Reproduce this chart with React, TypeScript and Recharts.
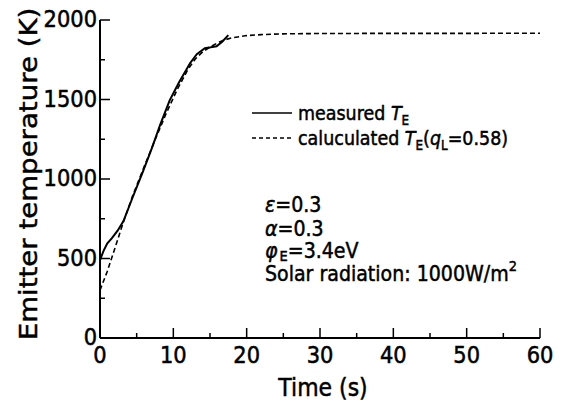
import React from 'react';
import { LineChart, Line, XAxis, YAxis } from 'recharts';

// measured emitter temperature (solid)
const timeMeasured = [0, 0.5, 1, 1.6, 2.4, 3.2, 4.5, 5.8, 7.0, 8.2, 9.5, 10.8, 12.3, 13.2, 14.3, 15.1, 15.9, 16.7, 17.5];
const tempMeasured = [490, 550, 595, 627, 675, 735, 890, 1040, 1185, 1340, 1495, 1610, 1730, 1785, 1822, 1828, 1835, 1865, 1905];

// calculated emitter temperature, qL = 0.58 (dashed)
const timeCalc = [0, 1, 2, 3.2, 4.5, 6, 7.5, 9, 10.5, 12, 13, 14, 15, 16, 17, 18, 20, 22, 25, 30, 40, 50, 60];
const tempCalc = [300, 420, 560, 731, 900, 1075, 1245, 1410, 1560, 1690, 1755, 1800, 1830, 1855, 1875, 1888, 1902, 1908, 1913, 1915, 1916, 1916, 1917];

const xTicks = [0, 5, 10, 15, 20, 25, 30, 35, 40, 45, 50, 55, 60];
const yTicks = [0, 250, 500, 750, 1000, 1250, 1500, 1750, 2000];

const measured = timeMeasured.map((t, i) => ({ t, T: tempMeasured[i] }));
const calculated = timeCalc.map((t, i) => ({ t, T: tempCalc[i] }));

const FONT = 'DejaVu Sans';

const BottomTick = (props: any) => {
  const { x, y, payload } = props;
  const v = payload.value;
  const major = v % 10 === 0;
  return (
    <g>
      <line x1={x} x2={x} y1={y} y2={y - (major ? 10 : 5)} stroke="#000" strokeWidth={1.5} />
      {major && (
        <text transform={`translate(${x},${y + 25}) scale(1,1.1)`} textAnchor="middle" fontSize={21} fontFamily={FONT} fill="#000" stroke="#000" strokeWidth={0.5}>
          {v}
        </text>
      )}
    </g>
  );
};

const TopTick = (props: any) => {
  const { x, y, payload } = props;
  const major = payload.value % 10 === 0;
  return <line x1={x} x2={x} y1={y} y2={y + (major ? 10 : 5)} stroke="#000" strokeWidth={1.5} />;
};

const LeftTick = (props: any) => {
  const { x, y, payload } = props;
  const v = payload.value;
  const major = v % 500 === 0;
  return (
    <g>
      <line x1={x} x2={x + (major ? 10 : 5)} y1={y} y2={y} stroke="#000" strokeWidth={1.5} />
      {major && (
        <text transform={`translate(${x - 3},${y + 7}) scale(1,1.1)`} textAnchor="end" fontSize={21} fontFamily={FONT} fill="#000" stroke="#000" strokeWidth={0.5}>
          {v}
        </text>
      )}
    </g>
  );
};

const RightTick = (props: any) => {
  const { x, y, payload } = props;
  const major = payload.value % 500 === 0;
  return <line x1={x} x2={x - (major ? 10 : 5)} y1={y} y2={y} stroke="#000" strokeWidth={1.5} />;
};

const axisLine = { stroke: '#000', strokeWidth: 2 };

export default function App() {
  return (
    <div style={{ position: 'absolute', left: 0, top: 0, width: 570, height: 404, background: '#fff' }}>
      <LineChart width={570} height={404} margin={{ top: 20, right: 30, bottom: 0, left: 0 }}>
        <XAxis
          dataKey="t"
          type="number"
          domain={[0, 60]}
          ticks={xTicks}
          interval={0}
          height={66}
          axisLine={axisLine}
          tickLine={false}
          tickSize={0}
          tickMargin={0}
          tick={<BottomTick />}
          allowDataOverflow
        />
        <XAxis
          xAxisId="top"
          orientation="top"
          type="number"
          domain={[0, 60]}
          ticks={xTicks}
          interval={0}
          height={0}
          axisLine={axisLine}
          tickLine={false}
          tickSize={0}
          tickMargin={0}
          tick={<TopTick />}
        />
        <YAxis
          type="number"
          domain={[0, 2000]}
          ticks={yTicks}
          interval={0}
          width={100}
          axisLine={axisLine}
          tickLine={false}
          tickSize={0}
          tickMargin={0}
          tick={<LeftTick />}
          allowDataOverflow
        />
        <YAxis
          yAxisId="right"
          orientation="right"
          type="number"
          domain={[0, 2000]}
          ticks={yTicks}
          interval={0}
          width={0}
          axisLine={axisLine}
          tickLine={false}
          tickSize={0}
          tickMargin={0}
          tick={<RightTick />}
        />
        <Line
          data={calculated}
          dataKey="T"
          type="linear"
          stroke="#000"
          strokeWidth={1.6}
          strokeDasharray="5 3"
          dot={false}
          isAnimationActive={false}
        />
        <Line
          data={measured}
          dataKey="T"
          type="linear"
          stroke="#000"
          strokeWidth={2}
          dot={false}
          isAnimationActive={false}
        />
      </LineChart>
      <svg width={570} height={404} style={{ position: 'absolute', left: 0, top: 0, pointerEvents: 'none' }} fontFamily={FONT}>
        {/* legend lines */}
        <line x1={252} x2={292} y1={113} y2={113} stroke="#000" strokeWidth={1.5} />
        <line x1={252} x2={292} y1={138} y2={138} stroke="#000" strokeWidth={1.5} strokeDasharray="4 3" />

        <g fill="#000" stroke="#000" strokeWidth={0.45}>
          {/* axis titles */}
          <text transform="translate(323,396) scale(1,1.15)" textAnchor="middle" fontSize={22}>Time (s)</text>
          <text transform="translate(37,174) scale(1,1.15) rotate(-90)" textAnchor="middle" fontSize={24}>Emitter temperature (K)</text>

          {/* legend */}
          <text transform="translate(298,120) scale(1,1.15)" fontSize={17.5}>
            measured  <tspan fontStyle="italic">T</tspan>
            <tspan fontSize={12} dy={4}>E</tspan>
          </text>
          <text transform="translate(298,145) scale(1,1.15)" fontSize={17.5}>
            caluculated <tspan fontStyle="italic">T</tspan>
            <tspan fontSize={12} dy={4}>E</tspan>
            <tspan dy={-4}>(</tspan>
            <tspan fontStyle="italic">q</tspan>
            <tspan fontSize={12} dy={4}>L</tspan>
            <tspan dy={-4}>=0.58)</tspan>
          </text>

          {/* parameters */}
          <text transform="translate(265,212) scale(1,1.15)" fontSize={19}>
            <tspan fontStyle="italic">ε</tspan>=0.3
          </text>
          <text transform="translate(265,236) scale(1,1.15)" fontSize={19}>
            <tspan fontStyle="italic">α</tspan>=0.3
          </text>
          <text transform="translate(265,258) scale(1,1.15)" fontSize={19}>
            <tspan fontStyle="italic">φ</tspan>
            <tspan fontSize={13} dy={3} dx={2}>E</tspan>
            <tspan dy={-3}>=3.4eV</tspan>
          </text>
          <text transform="translate(265,281) scale(1,1.15)" fontSize={19}>
            Solar radiation: 1000W/m<tspan fontSize={13} dy={-9}>2</tspan>
          </text>
        </g>
      </svg>
    </div>
  );
}
